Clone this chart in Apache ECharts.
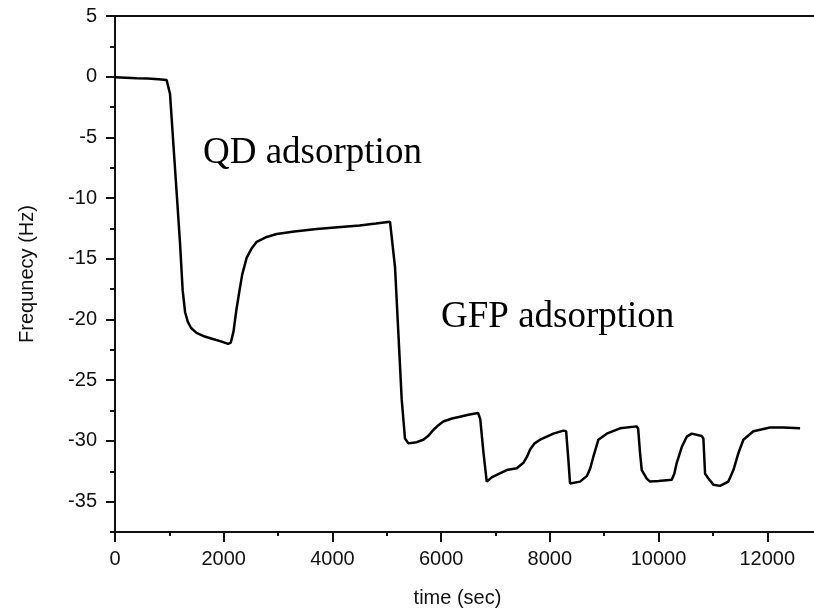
<!DOCTYPE html>
<html>
<head>
<meta charset="utf-8">
<script src="https://cdn.jsdelivr.net/npm/echarts@6/dist/echarts.min.js"></script>
<style>
html,body{margin:0;padding:0;background:#fff;}
#chart{width:814px;height:615px;}
</style>
</head>
<body>
<div id="chart"></div>
<script>
// ---- data ----
const timeSec = [0,200,400,600,800,950,985,1012,1073,1135,1196,1245,1290,1340,1400,1500,1650,1800,1950,2080,2130,2180,2230,2280,2340,2423,2520,2607,2791,2975,3300,3711,4100,4500,4800,5060,5091,5152,5213,5275,5335,5398,5550,5672,5760,5856,5950,6040,6200,6348,6500,6680,6720,6780,6839,6930,7023,7207,7391,7514,7580,7637,7720,7821,8066,8250,8300,8340,8372,8556,8679,8740,8801,8893,9047,9292,9599,9625,9660,9691,9783,9844,10000,10243,10290,10335,10427,10519,10611,10795,10825,10856,10917,11009,11132,11285,11377,11469,11561,11745,12052,12300,12604];
const freqHz = [-0.05,-0.08,-0.12,-0.15,-0.2,-0.28,-0.35,-1.4,-5.5,-9.6,-13.7,-17.6,-19.4,-20.2,-20.7,-21.1,-21.4,-21.6,-21.8,-22.0,-21.9,-21.0,-19.3,-17.9,-16.3,-14.9,-14.1,-13.6,-13.2,-12.95,-12.75,-12.55,-12.4,-12.25,-12.1,-11.95,-12.1,-15.7,-21.1,-26.6,-29.8,-30.2,-30.1,-29.9,-29.6,-29.1,-28.7,-28.4,-28.15,-28.0,-27.85,-27.7,-28.2,-31.0,-33.35,-33.0,-32.8,-32.4,-32.25,-31.8,-31.3,-30.7,-30.2,-29.9,-29.4,-29.15,-29.2,-31.5,-33.5,-33.35,-32.9,-32.3,-31.3,-29.9,-29.4,-28.96,-28.8,-29.0,-31.0,-32.4,-33.1,-33.35,-33.3,-33.2,-32.7,-31.8,-30.5,-29.65,-29.4,-29.6,-29.8,-32.7,-33.1,-33.6,-33.7,-33.35,-32.4,-31.0,-29.9,-29.2,-28.9,-28.9,-28.96];
const xMajorTicks = [0,2000,4000,6000,8000,10000,12000];
const xMinorTicks = [1000,3000,5000,7000,9000,11000];
const yMajorTicks = [-35,-30,-25,-20,-15,-10,-5,0,5];
const yMinorTicks = [-37.5,-32.5,-27.5,-22.5,-17.5,-12.5,-7.5,-2.5,2.5];
const annotations = [
  {text:'QD adsorption', x:203, y:154},
  {text:'GFP adsorption', x:441, y:318}
];

const X_MIN = 0, X_MAX = 12860, Y_MIN = -37.5, Y_MAX = 5;
const AX = '#111';
const labelFont = {fontFamily:'Liberation Sans', fontSize:20, color:AX};
const plain = v => String(v);

const chart = echarts.init(document.getElementById('chart'), null, {renderer:'canvas'});
const seriesData = timeSec.map((t,i)=>[t,freqHz[i]]);

chart.setOption({
  animation:false,
  backgroundColor:'#fff',
  grid:{left:115, right:0, top:16, bottom:83, containLabel:false},
  xAxis:[
    {type:'value', position:'bottom', min:X_MIN, max:X_MAX,
     name:'time (sec)', nameLocation:'middle', nameGap:56,
     nameTextStyle:Object.assign({padding:[0,14,0,0]}, labelFont),
     axisLine:{show:true, onZero:false, lineStyle:{color:AX, width:2}},
     axisTick:{show:true, customValues:xMajorTicks, length:10, lineStyle:{color:AX, width:2}},
     axisLabel:Object.assign({customValues:xMajorTicks, margin:17, formatter:plain}, labelFont),
     splitLine:{show:false}},
    {type:'value', position:'bottom', min:X_MIN, max:X_MAX,
     axisLine:{show:false, onZero:false},
     axisTick:{show:true, customValues:xMinorTicks, length:4, lineStyle:{color:AX, width:2}},
     axisLabel:{show:false}, splitLine:{show:false}},
    {type:'value', position:'top', min:X_MIN, max:X_MAX,
     axisLine:{show:true, onZero:false, lineStyle:{color:AX, width:2}},
     axisTick:{show:false}, axisLabel:{show:false}, splitLine:{show:false}}
  ],
  yAxis:[
    {type:'value', position:'left', min:Y_MIN, max:Y_MAX,
     name:'Frequnecy (Hz)', nameLocation:'middle', nameGap:78, nameRotate:90,
     nameTextStyle:labelFont,
     axisLine:{show:true, onZero:false, lineStyle:{color:AX, width:2}},
     axisTick:{show:true, customValues:yMajorTicks, length:9, lineStyle:{color:AX, width:2}},
     axisLabel:Object.assign({customValues:yMajorTicks, margin:18, formatter:plain}, labelFont),
     splitLine:{show:false}},
    {type:'value', position:'left', min:Y_MIN, max:Y_MAX,
     axisLine:{show:false, onZero:false},
     axisTick:{show:true, customValues:yMinorTicks, length:5, lineStyle:{color:AX, width:2}},
     axisLabel:{show:false}, splitLine:{show:false}}
  ],
  series:[{
    type:'line', xAxisIndex:0, yAxisIndex:0, data:seriesData,
    showSymbol:false, symbol:'none', smooth:false,
    lineStyle:{color:'#000', width:2.5}
  }],
  graphic: annotations.map(a=>({
    type:'text', left:a.x, top:a.y - 19,
    style:{text:a.text, font:'37px "Liberation Serif"', fill:'#000'}
  }))
});
</script>
</body>
</html>
